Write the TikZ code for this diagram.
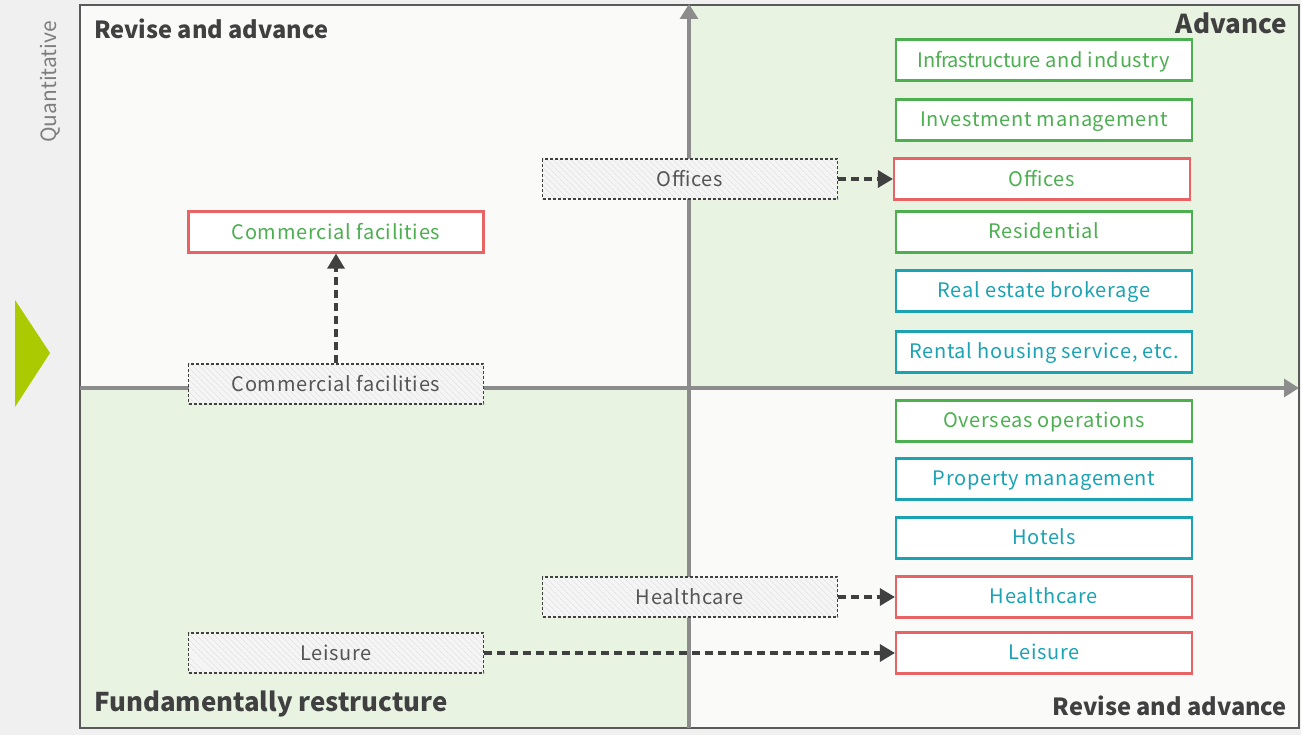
\documentclass[tikz,border=0pt]{standalone}
\usepackage{fontspec}
\setmainfont{Noto Sans CJK JP}
\newfontfamily\boxfont[LetterSpace=3.5]{Noto Sans CJK JP}
\usetikzlibrary{arrows.meta,patterns.meta}
\definecolor{bgray}{HTML}{F0F0F0}
\definecolor{qwhite}{HTML}{FAFAF9}
\definecolor{qgreen}{HTML}{E8F3E2}
\definecolor{axisgray}{HTML}{8C8C8C}
\definecolor{framegray}{HTML}{5A5A5A}
\definecolor{darktext}{HTML}{404040}
\definecolor{gtext}{HTML}{4CAF50}
\definecolor{ttext}{HTML}{1BA3B3}
\definecolor{rborder}{HTML}{E86464}
\definecolor{tri}{HTML}{ABCB00}
\definecolor{ghosttext}{HTML}{555555}
\tikzset{
  box/.style={draw, line width=2.2pt, minimum width=296pt, minimum height=41pt, fill=white, inner sep=0pt, text depth=2pt, font=\boxfont\fontsize{20}{23}\selectfont},
  gbox/.style={box, draw=gtext, text=gtext},
  tbox/.style={box, draw=ttext, text=ttext},
  rgbox/.style={box, draw=rborder, text=gtext},
  rtbox/.style={box, draw=rborder, text=ttext},
  ghost/.style={draw=darktext, dashed, dash pattern=on 3pt off 2pt, line width=1.2pt, minimum width=295pt, minimum height=40pt, inner sep=0pt, text=ghosttext, font=\boxfont\fontsize{20}{23}\selectfont,
    preaction={fill=white!96!black}, pattern={Lines[angle=-45,distance=4pt,line width=0.6pt]}, pattern color=black!14},
  dasharrow/.style={draw=darktext, line width=3.2pt, dash pattern=on 8pt off 5pt, -{Triangle[length=15pt,width=17pt]}},
  axis/.style={draw=axisgray, line width=3.2pt, -{Triangle[length=15pt,width=18pt]}},
  head/.style={text=darktext, font=\fontsize{23.6}{27}\selectfont\bfseries, inner sep=0pt}
}
\begin{document}
\begin{tikzpicture}[x=1pt,y=-1pt]
\useasboundingbox (0,0) rectangle (1301,735);
\fill[bgray] (0,0) rectangle (1301,735);
% quadrants
\fill[qwhite] (80,5) rectangle (689,388);
\fill[qgreen] (689,5) rectangle (1299,388);
\fill[qgreen] (80,388) rectangle (689,728);
\fill[qwhite] (689,388) rectangle (1299,728);
\draw[framegray, line width=1.8pt] (80,5) rectangle (1299,728);
% axes
\coordinate (vb) at (689,728);
\coordinate (vt) at (689,4);
\coordinate (hl) at (80,388);
\coordinate (hr) at (1299,388);
\draw[axis] (vb) -- (vt);
\draw[axis] (hl) -- (hr);
% side
\node[rotate=90, text=axisgray!90!black, font=\fontsize{21}{24}\selectfont] (quant) at (50,82) {Quantitative};
\fill[tri] (15,300) -- (50,353) -- (15,407) -- cycle;
% headings
\node[head, anchor=west] (h1) at (94,29) {Revise and advance};
\node[head, anchor=east, font=\fontsize{26}{30}\selectfont\bfseries] (h2) at (1287,23) {Advance};
\node[head, anchor=west, font=\fontsize{25.8}{30}\selectfont\bfseries] (h3) at (94,704) {Fundamentally restructure};
\node[head, anchor=east] (h4) at (1287,706) {Revise and advance};
% right column
\node[gbox] (infra) at (1044,60) {{\addfontfeature{LetterSpace=-2}Infrastructure} and industry};
\node[gbox] (invest) at (1044,120) {Investment management};
\node[rgbox] (offices) at (1042,179) {Offices};
\node[gbox] (resid) at (1044,232) {Residential};
\node[tbox] (broker) at (1044,291) {Real estate brokerage};
\node[tbox] (rental) at (1044,352) {Rental housing service, etc.};
\node[gbox] (overseas) at (1044,421) {Overseas operations};
\node[tbox] (pm) at (1044,479) {Property management};
\node[tbox] (hotels) at (1044,538) {Hotels};
\node[rtbox] (health) at (1044,597) {Healthcare};
\node[rtbox] (leisure) at (1044,653) {Leisure};
% left
\node[rgbox, minimum width=295pt] (comm) at (336,232) {Commercial facilities};
% ghosts
\node[ghost] (goff) at (690,179) {Offices};
\node[ghost] (gcomm) at (336,384) {Commercial facilities};
\node[ghost] (ghealth) at (690,597) {Healthcare};
\node[ghost] (gleis) at (336,653) {Leisure};
% arrows
\draw[dasharrow] (goff.east) -- (offices.west);
\draw[dasharrow] (gcomm.north) -- (comm.south);
\draw[dasharrow] (ghealth.east) -- (health.west);
\draw[dasharrow] (gleis.east) -- (leisure.west);
\end{tikzpicture}
\end{document}
